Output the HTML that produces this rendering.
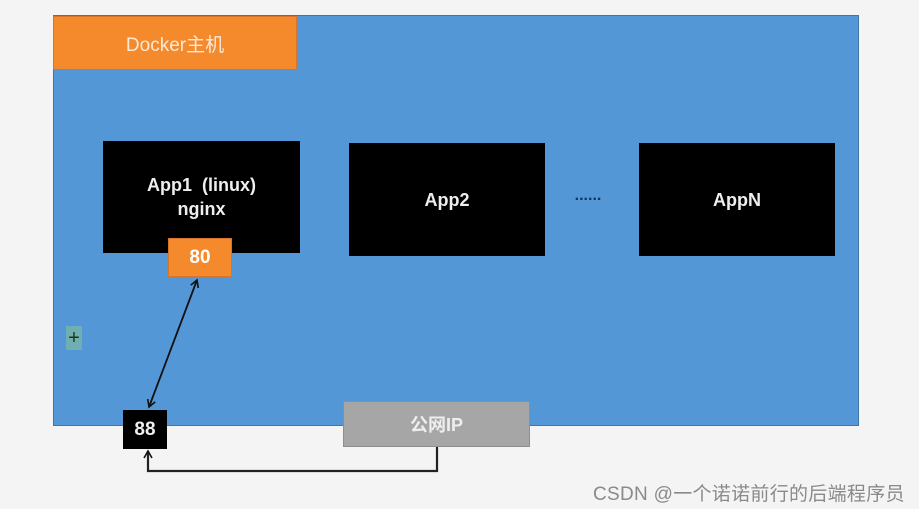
<!DOCTYPE html>
<html><head><meta charset="utf-8"><style>
html,body{margin:0;padding:0;}
body{width:919px;height:509px;background:#f4f4f4;position:relative;overflow:hidden;font-family:"Liberation Sans","Noto Sans CJK SC",sans-serif;}
.a{position:absolute;box-sizing:border-box;display:flex;align-items:center;justify-content:center;text-align:center;}
.blk{background:#000;color:#eee;font-size:18px;line-height:24px;font-weight:bold;}
</style></head><body>
<div class="a" style="left:53px;top:15px;width:806px;height:411px;background:#5497d6;border:1px solid #3f75a8;"></div>
<div class="a" style="left:53px;top:16px;width:244px;height:54px;background:#f58a2c;border:1px solid #d8742a;color:#fbe9d8;font-size:19px;">Docker主机</div>
<div class="a blk" style="left:103px;top:141px;width:197px;height:112px;">App1&nbsp; (linux)<br>nginx</div>
<div class="a" style="left:168px;top:238px;width:64px;height:39px;background:#f58a2c;border:1px solid #d8742a;color:#fff;font-size:19px;font-weight:bold;">80</div>
<div class="a blk" style="left:349px;top:143px;width:196px;height:113px;">App2</div>
<div class="a blk" style="left:639px;top:143px;width:196px;height:113px;">AppN</div>
<div class="a" style="left:568px;top:186px;width:40px;height:20px;color:#13335a;font-size:16px;font-weight:bold;">......</div>
<div class="a" style="left:66px;top:326px;width:16px;height:24px;color:#1a3a1a;font-size:20px;background:rgba(140,200,140,0.5);">+</div>
<div class="a" style="left:123px;top:410px;width:44px;height:39px;background:#000;color:#eee;font-size:19px;font-weight:bold;">88</div>
<div class="a" style="left:343px;top:401px;width:187px;height:46px;background:#a6a6a6;border:1px solid #8e8e8e;color:#eee;font-size:18px;font-weight:bold;">公网IP</div>
<svg style="position:absolute;left:0;top:0" width="919" height="509">
<defs><marker id="m" markerWidth="10" markerHeight="10" refX="8" refY="5" orient="auto-start-reverse" markerUnits="userSpaceOnUse"><path d="M1,1 L8,5 L1,9" fill="none" stroke="#111" stroke-width="1.6"/></marker></defs>
<line x1="197" y1="280" x2="149" y2="407" stroke="#111" stroke-width="1.8" marker-start="url(#m)" marker-end="url(#m)"/>
<polyline points="437,447 437,471 148,471 148,451" fill="none" stroke="#222" stroke-width="2.2" marker-end="url(#m)"/>
</svg>
<div style="position:absolute;left:593px;top:479px;font-size:19px;letter-spacing:0.3px;color:#8a8a8a;white-space:nowrap;">CSDN @一个诺诺前行的后端程序员</div>
</body></html>
